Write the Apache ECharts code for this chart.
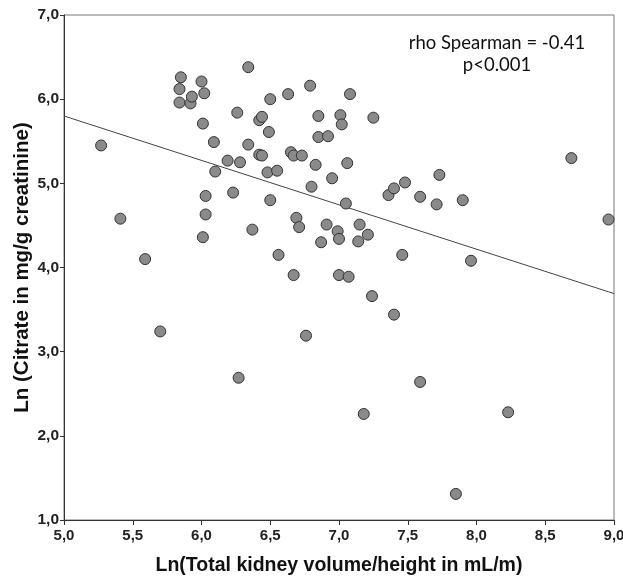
<!DOCTYPE html>
<html>
<head>
<meta charset="utf-8">
<script src="https://cdn.jsdelivr.net/npm/echarts@6/dist/echarts.min.js"></script>
<style>
  html, body { margin: 0; padding: 0; background: #fff; }
  #chart { width: 623px; height: 579px; }
</style>
</head>
<body>
<div id="chart"></div>
<script>
// Ln(total kidney volume / height) vs Ln(citrate), one pair per patient
const tkvLn = [
  5.27, 5.41, 5.59, 5.70, 5.85, 5.84, 5.84, 5.92, 5.93, 6.00,
  6.02, 6.01, 6.09, 6.10, 6.03, 6.03, 6.01, 6.19, 6.28, 6.26,
  6.34, 6.23, 6.34, 6.37, 6.42, 6.44, 6.42, 6.44, 6.50, 6.49,
  6.48, 6.55, 6.50, 6.56, 6.63, 6.65, 6.67, 6.73, 6.79, 6.85,
  6.85, 6.83, 6.80, 6.69, 6.71, 6.67, 6.87, 7.08, 7.01, 7.02,
  7.25, 6.92, 7.06, 6.95, 7.05, 7.36, 7.40, 7.48, 7.73, 7.59,
  7.71, 7.90, 8.69, 8.96, 6.91, 6.99, 7.00, 7.15, 7.21, 7.14,
  7.46, 7.96, 7.00, 7.07, 6.27, 6.76, 7.24, 7.40, 7.59, 7.18,
  8.23, 7.85,
]
const citrateLn = [
  5.45, 4.58, 4.10, 3.24, 6.26, 6.12, 5.96, 5.95, 6.03, 6.21,
  6.07, 5.71, 5.49, 5.14, 4.85, 4.63, 4.36, 5.27, 5.25, 5.84,
  6.38, 4.89, 5.46, 4.45, 5.34, 5.33, 5.75, 5.79, 6.00, 5.61,
  5.13, 5.15, 4.80, 4.15, 6.06, 5.37, 5.33, 5.33, 6.16, 5.80,
  5.55, 5.22, 4.96, 4.59, 4.48, 3.91, 4.30, 6.06, 5.81, 5.70,
  5.78, 5.56, 5.24, 5.06, 4.76, 4.86, 4.94, 5.01, 5.10, 4.84,
  4.75, 4.80, 5.30, 4.57, 4.51, 4.43, 4.34, 4.51, 4.39, 4.31,
  4.15, 4.08, 3.91, 3.89, 2.69, 3.19, 3.66, 3.44, 2.64, 2.26,
  2.28, 1.31,
]

// fit line end points
const fitX = [5.0, 9.0]
const fitY = [5.80, 3.69]

const xTitle = 'Ln(Total kidney volume/height in mL/m)'
const yTitle = 'Ln (Citrate in mg/g creatinine)'
const statLines = ['rho Spearman = -0.41', 'p<0.001']

const commaFmt = (val) => val.toFixed(1).replace('.', ',')

const chart = echarts.init(document.getElementById('chart'), null, { renderer: 'canvas' })

const option = {
  animation: false,
  backgroundColor: '#fff',
  grid: {
    left: 64,
    right: 9,
    top: 15,
    bottom: 59,
    outerBoundsMode: 'none',
    show: true,
    borderColor: '#777',
    borderWidth: 1,
  },
  xAxis: {
    type: 'value',
    min: 5,
    max: 9,
    interval: 0.5,
    name: xTitle,
    nameLocation: 'middle',
    nameGap: 36,
    nameMoveOverlap: false,
    nameTextStyle: { fontFamily: 'Liberation Sans', fontWeight: 'bold', fontSize: 19.5, color: '#111' },
    axisLine: { lineStyle: { color: '#333', width: 1 } },
    axisTick: { show: true, length: 5, lineStyle: { color: '#333' } },
    axisLabel: {
      margin: 8,
      fontFamily: 'Liberation Sans',
      fontWeight: 'bold',
      fontSize: 15,
      color: '#222',
      formatter: commaFmt,
      showMaxLabel: true,
      hideOverlap: false,
    },
    splitLine: { show: false },
  },
  yAxis: {
    type: 'value',
    min: 1,
    max: 7,
    interval: 1,
    name: yTitle,
    nameLocation: 'middle',
    nameGap: 31,
    nameMoveOverlap: false,
    nameTextStyle: { fontFamily: 'Liberation Sans', fontWeight: 'bold', fontSize: 20.5, color: '#111' },
    axisLine: { show: true, lineStyle: { color: '#333', width: 1 } },
    axisTick: { show: true, length: 4, lineStyle: { color: '#333' } },
    axisLabel: {
      margin: 5,
      fontFamily: 'Liberation Sans',
      fontWeight: 'bold',
      fontSize: 15.5,
      color: '#222',
      formatter: commaFmt,
    },
    splitLine: { show: false },
  },
  graphic: [
    {
      type: 'text',
      x: 497,
      y: 54,
      style: {
        text: statLines.join('\n'),
        fontFamily: 'Lato',
        fontSize: 18.5,
        lineHeight: 22,
        fill: '#111',
        align: 'center',
        verticalAlign: 'middle',
        textAlign: 'center',
        textVerticalAlign: 'middle',
      },
    },
  ],
  series: [
    {
      name: 'Fit',
      type: 'line',
      data: fitX.map((x, ii) => [x, fitY[ii]]),
      symbol: 'none',
      lineStyle: { color: '#444', width: 1 },
      z: 1,
    },
    {
      name: 'Patients',
      type: 'scatter',
      data: tkvLn.map((x, ii) => [x, citrateLn[ii]]),
      symbol: 'circle',
      symbolSize: 11,
      itemStyle: { color: '#8a8a8a', borderColor: '#333', borderWidth: 1, opacity: 1 },
      z: 2,
    },
  ],
}

chart.setOption(option)
</script>
</body>
</html>
